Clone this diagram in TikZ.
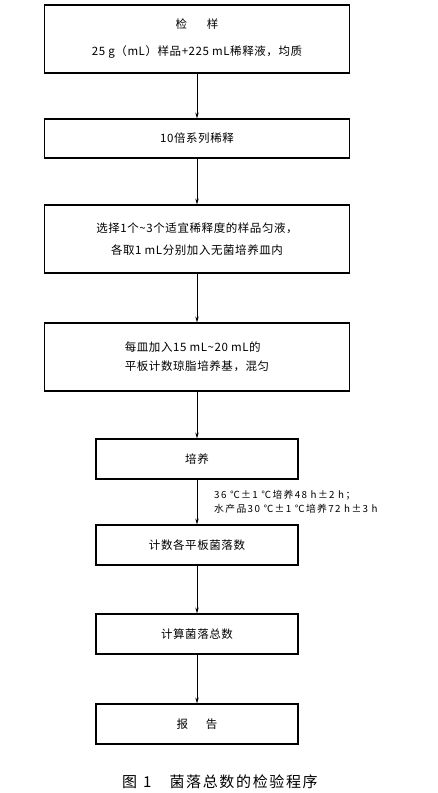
\documentclass[tikz,border=0pt]{standalone}
\usepackage{fontspec}
\setmainfont{Noto Sans CJK SC}
\newfontfamily\boxfont[LetterSpace=5]{Noto Sans CJK SC}
\newfontfamily\notefont[LetterSpace=14]{Noto Sans CJK SC}
\newfontfamily\captionfont[LetterSpace=11]{Noto Sans CJK SC}
\usetikzlibrary{arrows.meta}

\begin{document}
\begin{tikzpicture}[x=1pt,y=-1pt]
        % Define box properties
        \def\boxwidth{305pt}      % Width of the wide boxes
        \def\smallboxwidth{202pt} % Width of the narrow boxes
        \def\boxborderwidth{1.1pt}
        \def\linkwidth{0.7pt}

        \tikzset{
            stepbox/.style={
                draw=black,
                line width=\boxborderwidth,
                minimum width=\boxwidth,
                minimum height=68pt,
                inner sep=0pt,
                align=center,
                font=\boxfont\fontsize{11.5}{14}\selectfont
            },
            smallbox/.style={
                stepbox,
                minimum width=\smallboxwidth,
                minimum height=40pt
            },
            link/.style={
                line width=\linkwidth,
                -{Stealth[length=6pt,width=3.4pt]}
            }
        }

        % Fix the page size
        \useasboundingbox (0,0) rectangle (437,793);

        % Draw the step boxes
        \node[stepbox] (sample) at (197,39) {检\hspace{20pt}样\\[13pt]25 g（mL）样品+225 mL稀释液，均质};
        \node[stepbox, minimum height=39pt] (dilute) at (197,138.5) {10倍系列稀释};
        \node[stepbox] (plate) at (197,239) {选择1个\textasciitilde 3个适宜稀释度的样品匀液，\\[8pt]各取1 mL分别加入无菌培养皿内};
        \node[stepbox, align=left] (agar) at (197,357) {每皿加入15 mL\textasciitilde 20 mL的\\[5pt]平板计数琼脂培养基，混匀};
        \node[smallbox] (incubate) at (197,459) {培养};
        \node[smallbox] (count) at (197,545) {计数各平板菌落数};
        \node[smallbox] (total) at (197,634) {计算菌落总数};
        \node[smallbox] (report) at (197,724) {报\hspace{18pt}告};

        % Incubation conditions
        \node[anchor=north west, align=left, inner sep=0pt,
              font=\notefont\fontsize{9.8}{14}\selectfont] (cond) at (214,490)
            {36 ℃±1 ℃培养48 h±2 h；\\水产品30 ℃±1 ℃培养72 h±3 h};

        % Connect the steps
        \draw[link] (sample) -- (dilute);
        \draw[link] (dilute) -- (plate);
        \draw[link] (plate) -- (agar);
        \draw[link] (agar) -- (incubate);
        \draw[link] (incubate) -- (count);
        \draw[link] (count) -- (total);
        \draw[link] (total) -- (report);

        % Figure caption
        \node[font=\captionfont\fontsize{15}{18}\selectfont] (caption) at (220,782)
            {图\hspace{6pt}1\hspace{18pt}菌落总数的检验程序};
\end{tikzpicture}
\end{document}
